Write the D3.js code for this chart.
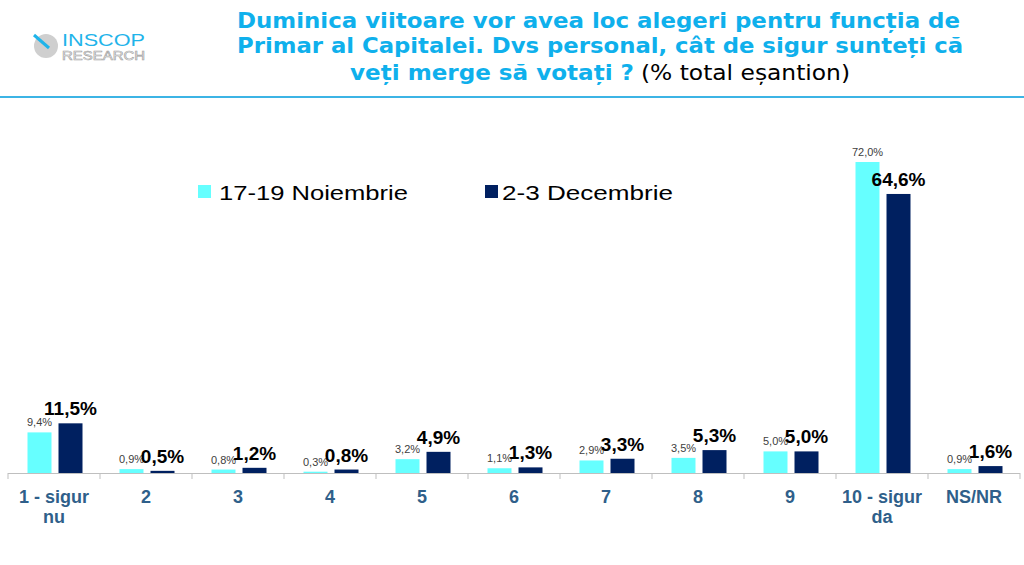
<!DOCTYPE html>
<html>
<head>
<meta charset="utf-8">
<script src="https://cdn.jsdelivr.net/npm/d3@7"></script>
<style>
  body { margin: 0; background: #fff; }
  svg { display: block; font-family: "Liberation Sans", Arial, sans-serif; }
  .tahoma { font-family: Tahoma, "DejaVu Sans Condensed", "DejaVu Sans", sans-serif; }
</style>
</head>
<body>
<svg id="chart" width="1024" height="565"></svg>
<script>
// Chart data
var categories = ['1 - sigur nu', '2', '3', '4', '5', '6', '7', '8', '9', '10 - sigur da', 'NS/NR'];
var categoryLines = [['1 - sigur', 'nu'], ['2'], ['3'], ['4'], ['5'], ['6'], ['7'], ['8'], ['9'], ['10 - sigur', 'da'], ['NS/NR']];
var seriesNames = ['17-19 Noiembrie', '2-3 Decembrie'];
var novemberValues = [9.4, 0.9, 0.8, 0.3, 3.2, 1.1, 2.9, 3.5, 5.0, 72.0, 0.9];
var decemberValues = [11.5, 0.5, 1.2, 0.8, 4.9, 1.3, 3.3, 5.3, 5.0, 64.6, 1.6];

var colors = ['#66ffff', '#002060'];
var svg = d3.select('#chart');

// Format like "9,4%"
var fmt = function(v) { return d3.format('.1f')(v).replace('.', ',') + '%'; };

// Header: logo
var logo = svg.append('g');
logo.append('circle').attr('cx', 46).attr('cy', 46).attr('r', 12).attr('fill', '#cfcfcf');
logo.append('line').attr('x1', 34).attr('y1', 35).attr('x2', 49).attr('y2', 48)
  .attr('stroke', '#1fb4ea').attr('stroke-width', 3);
logo.append('text').attr('x', 62).attr('y', 46).text('INSCOP')
  .attr('textLength', 83).attr('lengthAdjust', 'spacingAndGlyphs')
  .attr('font-size', 17).attr('fill', '#1fb4ea');
logo.append('text').attr('x', 62).attr('y', 60).text('RESEARCH')
  .attr('textLength', 83).attr('lengthAdjust', 'spacingAndGlyphs')
  .attr('font-size', 12).attr('fill', '#fff').attr('stroke', '#a0a0a0').attr('stroke-width', 0.6);

// Header: title (stretched to match the slide)
var titleColor = '#0fb0ec';
var titleParts = [
  { text: 'Duminica viitoare vor avea loc alegeri pentru funcția de', x: 237, y: 28, w: 723, bold: true },
  { text: 'Primar al Capitalei. Dvs personal, cât de sigur sunteți că', x: 237, y: 53, w: 726, bold: true },
  { text: 'veți merge să votați ?', x: 350, y: 80, w: 284, bold: true },
  { text: '(% total eșantion)', x: 641, y: 80, w: 209, bold: false }
];
svg.append('g').selectAll('text')
  .data(titleParts)
  .enter().append('text')
  .attr('class', 'tahoma')
  .attr('x', function(d) { return d.x; })
  .attr('y', function(d) { return d.y; })
  .attr('textLength', function(d) { return d.w; })
  .attr('lengthAdjust', 'spacingAndGlyphs')
  .attr('font-size', 22)
  .attr('font-weight', function(d) { return d.bold ? 'bold' : 'normal'; })
  .attr('fill', function(d) { return d.bold ? titleColor : '#000'; })
  .text(function(d) { return d.text; });

svg.append('line').attr('x1', 0).attr('x2', 1024).attr('y1', 97).attr('y2', 97)
  .attr('stroke', '#3cb4e5').attr('stroke-width', 2);

// Scales
var x = d3.scaleBand().domain(categories).range([8, 1020]);
var xs = d3.scaleBand().domain(seriesNames).range([19.5, 74.5]).paddingInner(0.226);
var y = d3.scaleLinear().domain([0, 72]).range([473, 162]);

var rows = categories.map(function(c, i) {
  return { cat: c, lines: categoryLines[i], values: [novemberValues[i], decemberValues[i]] };
});

// Bars
var groups = svg.append('g').selectAll('g.cat')
  .data(rows)
  .enter().append('g')
  .attr('class', 'cat')
  .attr('transform', function(d) { return 'translate(' + x(d.cat) + ',0)'; });

var barData = function(d) {
  return d.values.map(function(v, i) { return { s: seriesNames[i], v: v, i: i }; });
};

groups.selectAll('rect')
  .data(barData)
  .enter().append('rect')
  .attr('x', function(d) { return xs(d.s); })
  .attr('y', function(d) { return y(d.v); })
  .attr('width', xs.bandwidth())
  .attr('height', function(d) { return y(0) - y(d.v); })
  .attr('fill', function(d) { return colors[d.i]; });

// Value labels
groups.selectAll('text.val')
  .data(barData)
  .enter().append('text')
  .attr('class', 'val')
  .attr('text-anchor', 'middle')
  .attr('x', function(d) { return xs(d.s) + xs.bandwidth() / 2; })
  .attr('y', function(d) { return y(d.v) - (d.i === 0 ? 6 : 8); })
  .attr('font-size', function(d) { return d.i === 0 ? 11 : 19; })
  .attr('font-weight', function(d) { return d.i === 0 ? 'normal' : 'bold'; })
  .attr('fill', function(d) { return d.i === 0 ? '#404040' : '#000'; })
  .text(function(d) { return fmt(d.v); });

// Axis
var axis = svg.append('g');
axis.append('line').attr('x1', 8).attr('x2', 1020).attr('y1', 473.5).attr('y2', 473.5)
  .attr('stroke', '#bfbfbf').attr('stroke-width', 1);
axis.selectAll('line.tick')
  .data(categories.map(function(c) { return x(c); }).concat([x.range()[1]]))
  .enter().append('line')
  .attr('class', 'tick')
  .attr('x1', function(d) { return d; }).attr('x2', function(d) { return d; })
  .attr('y1', 473).attr('y2', 479)
  .attr('stroke', '#bfbfbf');

axis.selectAll('text.cat')
  .data(rows)
  .enter().append('text')
  .attr('class', 'cat')
  .attr('text-anchor', 'middle')
  .attr('font-size', 18).attr('font-weight', 'bold').attr('fill', '#2f5f8a')
  .each(function(d) {
    var t = d3.select(this);
    d.lines.forEach(function(l, i) {
      t.append('tspan').attr('x', x(d.cat) + x.bandwidth() / 2).attr('y', 503 + i * 20).text(l);
    });
  });

// Legend
var legendPos = [{ sx: 198, tx: 219, w: 189 }, { sx: 485, tx: 502, w: 171 }];
var legend = svg.append('g').selectAll('g')
  .data(seriesNames)
  .enter().append('g');
legend.append('rect')
  .attr('x', function(d, i) { return legendPos[i].sx; })
  .attr('y', 185).attr('width', 13).attr('height', 13)
  .attr('fill', function(d, i) { return colors[i]; });
legend.append('text')
  .attr('x', function(d, i) { return legendPos[i].tx; })
  .attr('y', 200)
  .attr('textLength', function(d, i) { return legendPos[i].w; })
  .attr('lengthAdjust', 'spacingAndGlyphs')
  .attr('font-size', 21).attr('fill', '#000')
  .text(function(d) { return d; });
</script>
</body>
</html>
